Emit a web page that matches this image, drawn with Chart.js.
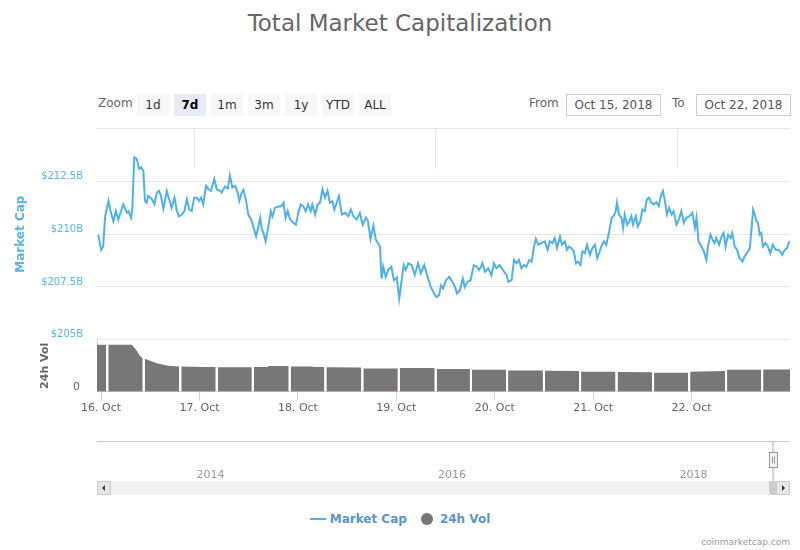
<!DOCTYPE html>
<html>
<head>
<meta charset="utf-8">
<title>Total Market Capitalization</title>
<script src="https://cdn.jsdelivr.net/npm/chart.js@4.4.1/dist/chart.umd.min.js"></script>
<style>
  html, body { margin: 0; padding: 0; background: #fff; }
  body { width: 800px; height: 550px; position: relative; overflow: hidden; font-family: "DejaVu Sans", sans-serif; }
  #title { position: absolute; left: 0; top: 10px; width: 800px; text-align: center; font-size: 23px; color: #666; }
  #zoomLabel { position: absolute; left: 98px; top: 96px; font-size: 12px; color: #666; }
  #rangeButtons { position: absolute; left: 137px; top: 94px; display: flex; gap: 5px; }
  .rs-btn { width: 32px; height: 22px; line-height: 22px; background: #f7f7f7; text-align: center; font-size: 12px; color: #333; }
  .rs-btn.active { background: #e6ebf5; font-weight: bold; color: #000; }
  .rs-label { position: absolute; top: 96px; font-size: 12px; color: #666; }
  .rs-input { position: absolute; top: 94px; width: 93px; height: 20px; line-height: 20px; border: 1px solid #ccc; text-align: center; font-size: 12px; color: #555; }
  #mainWrap { position: absolute; left: 0; top: 105px; width: 800px; height: 316px; }
  #navWrap { position: absolute; left: 0; top: 440px; width: 800px; height: 60px; }
  #legend { position: absolute; left: 0; top: 512px; width: 800px; display: flex; justify-content: center; gap: 14px; font-size: 12px; font-weight: bold; color: #5b95d0; }
  .lg-item { display: flex; align-items: center; }
  .lg-line { width: 16px; height: 2px; margin-right: 4px; }
  .lg-dot { width: 12px; height: 12px; border-radius: 6px; margin-right: 7px; }
  #credit { position: absolute; right: 10px; top: 537px; font-size: 9px; color: #999; }
</style>
</head>
<body>
<div id="title">Total Market Capitalization</div>
<div id="zoomLabel">Zoom</div>
<div id="rangeButtons"></div>
<div class="rs-label" style="left:529px">From</div>
<div class="rs-input" id="fromBox" style="left:566px"></div>
<div class="rs-label" style="left:672px">To</div>
<div class="rs-input" id="toBox" style="left:696px"></div>
<div id="mainWrap"><canvas id="mainChart"></canvas></div>
<div id="navWrap"><canvas id="navChart"></canvas></div>
<div id="legend"></div>
<div id="credit">coinmarketcap.com</div>

<script>
// range selector
const rangeButtons = ['1d', '7d', '1m', '3m', '1y', 'YTD', 'ALL'];
const selectedRange = '7d';
const fromDate = 'Oct 15, 2018';
const toDate = 'Oct 22, 2018';

// x axis: hours since 16 Oct 2018 00:00
const xMin = -1, xMax = 168;
const dayHours = [0, 24, 48, 72, 96, 120, 144];
const dayLabels = ['16. Oct', '17. Oct', '18. Oct', '19. Oct', '20. Oct', '21. Oct', '22. Oct'];

// total market cap, billions USD
const capHours = [
  -0.7, 0.0, 0.5, 1.0, 1.8, 2.2, 3.0, 3.6, 4.2, 5.4,
  6.3, 6.7, 7.3, 7.6, 8.1, 8.7, 9.3, 9.8, 10.3, 10.7,
  11.1, 11.5, 12.4, 13.0, 13.6, 14.1, 14.6, 15.2, 16.0, 16.6,
  17.2, 17.9, 18.5, 19.0, 19.7, 20.3, 20.9, 21.5, 22.1, 22.7,
  23.3, 23.9, 24.4, 24.9, 25.6, 26.2, 26.8, 27.6, 28.2, 29.0,
  29.4, 30.2, 30.9, 31.4, 32.0, 32.7, 33.3, 33.7, 34.3, 34.7,
  35.3, 35.9, 36.6, 37.1, 37.8, 38.3, 38.8, 39.2, 39.6, 40.1,
  40.8, 41.4, 41.8, 42.4, 43.2, 44.0, 44.5, 45.0, 45.5, 46.1,
  46.9, 47.5, 48.1, 48.7, 49.3, 49.9, 50.5, 51.1, 51.5, 52.2,
  52.8, 53.4, 54.0, 54.6, 55.2, 55.8, 56.4, 56.9,
  57.6, 58.0, 58.7, 59.5, 60.3, 60.9, 61.5, 62.3, 63.1, 63.8, 64.6,
  65.1, 65.7, 66.4, 67.0, 67.6, 68.0, 68.4, 68.8, 69.4, 70.0,
  70.8, 71.4, 72.1, 72.7, 73.3, 73.8, 74.3, 74.9, 75.7, 76.5,
  77.3, 78.0, 78.8, 79.5, 80.4, 81.2, 81.8, 82.4, 82.9, 83.4,
  84.1, 84.9, 85.7, 86.3, 86.8, 87.5, 88.2, 88.7, 89.3, 90.1,
  90.9, 91.6, 92.2, 93.0, 93.6, 94.4, 95.2, 95.8, 96.4, 97.2,
  98.0, 98.9, 99.3, 100.1, 100.7, 101.3, 101.9, 102.5, 103.1, 103.7,
  104.4, 105.0, 105.5, 106.0, 106.6, 107.4, 108.2, 108.9, 109.4, 110.1,
  110.6, 111.2, 111.9, 112.4, 113.1, 113.6, 114.1, 114.7, 115.3, 115.8,
  116.3, 116.9, 117.4, 118.0, 118.5, 119.2, 119.8, 120.4, 121.0, 121.6,
  122.0, 122.6, 123.2, 123.9, 124.5, 125.0, 125.5, 125.8, 126.3, 126.9,
  127.3, 127.7, 128.3, 128.8, 129.3, 129.7, 130.4, 130.9, 131.5, 132.0,
  132.6, 133.1, 133.6, 134.2, 134.8, 135.4, 136.0, 136.5, 137.0, 137.5,
  138.0, 138.5, 139.1, 139.6, 140.3, 140.9, 141.5, 142.1, 142.7, 143.5,
  144.2, 144.8, 145.2, 145.7, 146.4, 147.0, 147.6, 148.0, 148.6, 149.1,
  149.6, 150.0, 150.7, 151.3, 151.8, 152.3, 152.9, 153.5, 153.9, 154.5,
  155.1, 155.7, 156.4, 156.9, 157.5, 158.2, 158.6, 159.0, 159.4, 159.8,
  160.2, 160.6, 161.0, 161.4, 162.0, 162.6, 163.2, 163.8, 164.5, 165.1,
  165.6, 166.1, 166.7, 167.3, 167.8
];
const marketCap = [
  209.98, 209.26, 209.42, 210.85, 211.57, 211.17, 210.61, 211.09, 210.69, 211.41,
  211.01, 211.09, 210.78, 211.17, 213.65, 213.56, 213.09, 213.17, 213.00, 211.57,
  211.49, 211.81, 211.65, 211.41, 211.97, 212.05, 211.81, 211.21, 212.05, 211.65,
  211.25, 211.73, 211.09, 210.85, 210.93, 211.09, 211.65, 211.17, 211.09, 211.73,
  211.73, 211.57, 211.73, 211.41, 212.29, 212.13, 212.05, 212.61, 212.13, 212.05,
  211.97, 212.26, 212.16, 212.77, 212.21, 212.29, 211.97, 211.57, 211.97, 212.10,
  211.65, 210.93, 210.69, 210.37, 209.89, 210.30, 210.78, 210.22, 210.06, 209.66,
  210.37, 211.09, 210.85, 211.25, 211.30, 211.33, 211.49, 210.78, 211.09, 210.69,
  210.54, 210.45, 211.01, 211.41, 211.33, 211.09, 211.41, 211.09, 211.41, 210.93,
  211.41, 211.49, 212.13, 211.73, 212.05, 211.49, 211.57, 211.17,
  211.57, 211.81, 210.93, 211.01, 210.85, 211.17, 210.85, 210.69, 211.01, 210.45, 210.78,
  210.61, 209.77, 210.41, 209.74, 209.55, 209.42, 207.90, 208.46, 207.98, 208.30,
  208.46, 207.82, 207.95, 206.95, 207.82, 208.54, 208.30, 208.62, 208.54, 208.06,
  208.62, 208.14, 208.54, 208.06, 207.50, 207.19, 207.02, 207.11, 207.58, 207.43,
  207.82, 207.98, 207.74, 207.50, 207.19, 207.34, 207.90, 207.50, 207.74, 207.82,
  208.54, 208.46, 208.30, 208.62, 208.22, 208.38, 208.06, 208.62, 208.38, 208.54,
  208.30, 208.06, 207.74, 207.82, 208.78, 208.62, 208.78, 208.38, 208.54, 208.46,
  208.78, 208.70, 209.34, 209.77, 209.50, 209.58, 209.66, 209.26, 209.66, 209.58,
  209.82, 209.34, 209.89, 209.50, 209.66, 209.26, 209.42, 209.34, 209.18, 208.62,
  208.70, 208.54, 209.18, 209.10, 209.50, 209.02, 209.34, 209.50, 208.86, 209.18,
  209.42, 209.66, 209.50, 210.13, 210.78, 210.85, 211.09, 211.49, 210.93, 210.78,
  210.30, 210.93, 210.45, 210.61, 210.85, 210.45, 210.85, 210.37, 210.61, 211.17,
  211.09, 211.65, 211.73, 211.49, 211.41, 211.52, 211.33, 211.81, 212.05, 211.57,
  210.93, 211.25, 210.93, 211.09, 210.45, 210.69, 211.09, 210.54, 210.78, 210.85,
  211.01, 210.30, 210.78, 209.66, 209.42, 209.18, 208.78, 209.42, 209.98, 209.74,
  209.58, 209.82, 209.50, 209.89, 210.06, 209.42, 209.98, 209.82, 210.06, 209.42,
  209.26, 208.86, 208.70, 208.94, 209.10, 209.34, 210.22, 211.17, 210.93, 210.61,
  210.54, 209.98, 210.06, 209.42, 209.58, 209.42, 209.10, 209.50, 209.26, 209.26,
  209.18, 209.02, 209.26, 209.34, 209.66
];

// 24h volume, billions USD (null = missing sample, shows as a thin gap)
const volHours = [
  -1, 1.25, 1.5, 1.75, 7.5, 7.9, 8.7, 9.5, 10.15, 10.4,
  10.65, 11.9, 13.6, 15.2, 16.3, 19.05, 19.3, 19.55, 24.9, 27.95,
  28.2, 28.45, 36.75, 37.0, 37.25, 40.6, 40.8, 45.75, 46.0, 46.25,
  51.5, 51.7, 54.45, 54.7, 54.95, 63.45, 63.7, 63.95, 72.35, 72.6,
  72.85, 81.35, 81.6, 81.85, 89.95, 90.2, 90.45, 98.75, 99.0, 99.25,
  107.75, 108.0, 108.25, 116.55, 116.8, 117.05, 125.45, 125.7, 125.95, 134.35,
  134.6, 134.85, 143.15, 143.4, 143.65, 152.15, 152.4, 152.65, 160.95, 161.2,
  161.45, 168
];
const volume = [
  18.1, 18.1, null, 18.1, 18.1, 17.3, 15.8, 13.8, 12.9, null,
  12.7, 11.9, 11.0, 10.4, 10.0, 9.75, null, 9.7, 9.5, 9.5,
  null, 9.4, 9.4, null, 9.5, 9.5, 9.95, 9.95, null, 9.75,
  9.75, 9.5, 9.5, null, 9.4, 9.3, null, 9.0, 9.0, null,
  9.1, 9.1, null, 8.8, 8.75, null, 8.5, 8.45, null, 8.2,
  8.15, null, 8.05, 8.0, null, 7.75, 7.7, null, 7.65, 7.55,
  null, 7.35, 7.35, null, 7.75, 7.95, null, 8.45, 8.5, null,
  8.6, 8.6
];

// navigator: whole history in years, with the selected week
const navYearMin = 2013.2, navYearMax = 2018.94;
const navYearTicks = [2014, 2016, 2018];
const navFrom = 2018.79, navTo = 2018.81;

const capColor = '#4eb1e9';
const volColor = '#777777';

// --- range selector and inputs
const btnBox = document.getElementById('rangeButtons');
rangeButtons.forEach(function (b) {
  const d = document.createElement('div');
  d.className = 'rs-btn' + (b === selectedRange ? ' active' : '');
  d.textContent = b;
  btnBox.appendChild(d);
});
document.getElementById('fromBox').textContent = fromDate;
document.getElementById('toBox').textContent = toDate;

// short grid stubs at the navigator year positions, top of the plot
const yearStubs = {
  id: 'yearStubs',
  beforeDatasetsDraw(chart) {
    const s = chart.scales.xNav, a = chart.chartArea, ctx = chart.ctx;
    ctx.save();
    ctx.strokeStyle = '#e6e6e6';
    ctx.lineWidth = 1;
    navYearTicks.forEach(function (y) {
      const px = Math.round(s.getPixelForValue(y)) + 0.5;
      ctx.beginPath();
      ctx.moveTo(px, a.top);
      ctx.lineTo(px, a.top + 40);
      ctx.stroke();
    });
    ctx.restore();
  }
};

const mainChart = new Chart(document.getElementById('mainChart'), {
  type: 'line',
  data: {
    datasets: [
      {
        label: 'Market Cap',
        data: capHours.map((h, i) => ({ x: h, y: marketCap[i] })),
        yAxisID: 'yCap',
        borderColor: capColor,
        backgroundColor: capColor,
        borderWidth: 2,
        pointRadius: 0,
        tension: 0
      },
      {
        label: '24h Vol',
        data: volHours.map((h, i) => ({ x: h, y: volume[i] })),
        yAxisID: 'yVol',
        borderColor: volColor,
        backgroundColor: volColor,
        borderWidth: 0,
        pointRadius: 0,
        fill: 'origin',
        spanGaps: false,
        tension: 0
      }
    ]
  },
  options: {
    animation: false,
    responsive: true,
    maintainAspectRatio: false,
    devicePixelRatio: 1,
    layout: { padding: { left: 0, right: 10, top: 0, bottom: 5 } },
    plugins: { legend: { display: false }, tooltip: { enabled: false } },
    scales: {
      x: {
        type: 'linear',
        min: xMin,
        max: xMax,
        afterBuildTicks: (s) => { s.ticks = dayHours.map(v => ({ value: v })); },
        ticks: {
          autoSkip: false,
          maxRotation: 0,
          padding: 1,
          color: '#666',
          font: { family: 'DejaVu Sans', size: 11 },
          callback: (v) => dayLabels[dayHours.indexOf(v)]
        },
        grid: { drawOnChartArea: false, drawTicks: true, tickLength: 9, color: '#ccd6eb' },
        border: { display: true, color: '#ccd6eb' }
      },
      xNav: { type: 'linear', display: false, min: navYearMin, max: navYearMax },
      yVol: {
        type: 'linear',
        position: 'left',
        stack: 'panes',
        stackWeight: 52,
        min: 0,
        max: 20,
        afterBuildTicks: (s) => { s.ticks = [{ value: 0 }]; },
        afterFit: (s) => { s.width = 97; },
        ticks: { padding: 17, labelOffset: -5, color: '#666', font: { family: 'DejaVu Sans', size: 11 }, callback: (v) => String(v) },
        grid: { display: false, drawTicks: false },
        border: { display: true, color: '#ccd6eb' },
        title: { display: true, text: '24h Vol', color: '#666', padding: { top: 39, bottom: 0 }, font: { family: 'DejaVu Sans', size: 11, weight: 'bold' } }
      },
      yCap: {
        type: 'linear',
        position: 'left',
        stack: 'panes',
        stackWeight: 211,
        min: 205,
        max: 215,
        afterFit: (s) => { s.width = 97; },
        ticks: {
          stepSize: 2.5,
          padding: 14,
          labelOffset: -5,
          color: '#5bb4e8',
          font: { family: 'DejaVu Sans', size: 10 },
          callback: (v, i, t) => (i === t.length - 1 ? '' : '$' + v + 'B')
        },
        grid: { color: '#e6e6e6', drawTicks: false },
        border: { display: false },
        title: { display: true, text: 'Market Cap', color: '#5bb4e8', padding: { top: 14, bottom: 0 }, font: { family: 'DejaVu Sans', size: 12, weight: 'bold' } }
      }
    }
  },
  plugins: [yearStubs]
});

// --- navigator frame, selection mask, handle and scrollbar
const navDecor = {
  id: 'navDecor',
  afterDraw(chart) {
    const s = chart.scales.x, a = chart.chartArea, ctx = chart.ctx;
    const top = a.top, h = 40, barTop = top + h, barH = 14;
    const x0 = s.getPixelForValue(navFrom), x1 = s.getPixelForValue(navTo);
    ctx.save();
    // outline
    ctx.strokeStyle = '#cccccc';
    ctx.lineWidth = 1;
    ctx.beginPath();
    ctx.moveTo(a.left, top + 0.5);
    ctx.lineTo(a.right, top + 0.5);
    ctx.stroke();
    // selected zone
    ctx.fillStyle = 'rgba(102,133,194,0.3)';
    ctx.fillRect(x0, top, Math.max(x1 - x0, 2), h);
    // scrollbar track
    ctx.fillStyle = '#f2f2f2';
    ctx.fillRect(a.left, barTop, a.right - a.left, barH);
    // thumb
    const mid = (x0 + x1) / 2;
    ctx.fillStyle = '#cccccc';
    ctx.fillRect(mid - 4, barTop, 7, barH);
    // buttons
    [a.left, a.right - barH].forEach(function (bx, k) {
      ctx.fillStyle = '#e6e6e6';
      ctx.fillRect(bx, barTop, barH, barH);
      ctx.strokeStyle = '#cccccc';
      ctx.strokeRect(bx + 0.5, barTop + 0.5, barH - 1, barH - 1);
      ctx.fillStyle = '#333';
      ctx.beginPath();
      const cx = bx + barH / 2, cy = barTop + barH / 2;
      if (k === 0) { ctx.moveTo(cx + 1, cy - 3); ctx.lineTo(cx - 2, cy); ctx.lineTo(cx + 1, cy + 3); }
      else { ctx.moveTo(cx - 1, cy - 3); ctx.lineTo(cx + 2, cy); ctx.lineTo(cx - 1, cy + 3); }
      ctx.closePath();
      ctx.fill();
    });
    // handle
    const hx = Math.round(x1) - 4.5, hy = top + 11.5;
    ctx.fillStyle = '#f2f2f2';
    ctx.fillRect(hx, hy, 8, 15);
    ctx.strokeStyle = '#999999';
    ctx.strokeRect(hx, hy, 8, 15);
    ctx.beginPath();
    ctx.moveTo(hx + 3, hy + 4); ctx.lineTo(hx + 3, hy + 11);
    ctx.moveTo(hx + 5, hy + 4); ctx.lineTo(hx + 5, hy + 11);
    ctx.stroke();
    ctx.restore();
  }
};

new Chart(document.getElementById('navChart'), {
  type: 'line',
  data: { datasets: [] },
  options: {
    animation: false,
    responsive: true,
    maintainAspectRatio: false,
    devicePixelRatio: 1,
    layout: { padding: { left: 97, right: 10, top: 1, bottom: 18.4 } },
    plugins: { legend: { display: false }, tooltip: { enabled: false } },
    scales: {
      x: {
        type: 'linear',
        min: navYearMin,
        max: navYearMax,
        afterBuildTicks: (s) => { s.ticks = navYearTicks.map(v => ({ value: v })); },
        ticks: { align: 'start', labelOffset: 3, padding: 0, maxRotation: 0, autoSkip: false, color: '#999', font: { family: 'DejaVu Sans', size: 11 }, callback: (v) => String(v) },
        grid: { display: false, drawTicks: false },
        border: { display: false }
      },
      y: { display: false, min: 0, max: 1 }
    }
  },
  plugins: [navDecor]
});

// --- legend built from the main chart datasets
const legendBox = document.getElementById('legend');
mainChart.data.datasets.forEach(function (ds) {
  const item = document.createElement('div');
  item.className = 'lg-item';
  const sym = document.createElement('span');
  sym.className = ds.fill ? 'lg-dot' : 'lg-line';
  sym.style.background = ds.backgroundColor;
  const txt = document.createElement('span');
  txt.textContent = ds.label;
  item.appendChild(sym);
  item.appendChild(txt);
  legendBox.appendChild(item);
});
</script>
</body>
</html>
